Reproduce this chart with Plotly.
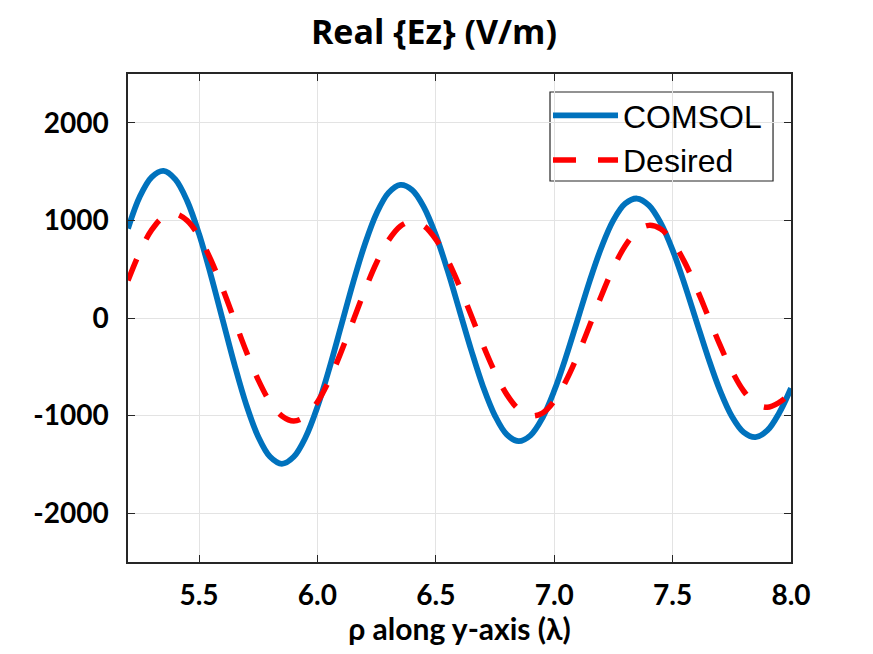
import plotly.graph_objects as go

x_vals = [5.20, 5.25, 5.30, 5.35, 5.40, 5.45, 5.50, 5.55, 5.60, 5.65,
          5.70, 5.75, 5.80, 5.85, 5.90, 5.95, 6.00, 6.05, 6.10, 6.15,
          6.20, 6.25, 6.30, 6.35, 6.40, 6.45, 6.50, 6.55, 6.60, 6.65,
          6.70, 6.75, 6.80, 6.85, 6.90, 6.95, 7.00, 7.05, 7.10, 7.15,
          7.20, 7.25, 7.30, 7.35, 7.40, 7.45, 7.50, 7.55, 7.60, 7.65,
          7.70, 7.75, 7.80, 7.85, 7.90, 7.95, 8.00]

comsol = [917, 1244, 1444, 1508, 1421, 1199, 861, 439, -20, -479,
          -892, -1216, -1422, -1494, -1422, -1222, -911, -519, -83, 356,
          753, 1073, 1282, 1364, 1312, 1134, 849, 485, 76, -333,
          -706, -1002, -1195, -1262, -1202, -1025, -746, -396, -8, 381,
          728, 1003, 1172, 1224, 1154, 972, 696, 350, -29, -405,
          -742, -1006, -1170, -1220, -1152, -973, -720]

desired = [384, 676, 902, 1036, 1068, 998, 835, 595, 298, -25,
           -346, -634, -861, -1004, -1055, -1005, -860, -634, -348, -33,
           283, 569, 795, 940, 990, 943, 806, 593, 325, 23,
           -281, -558, -785, -936, -1003, -974, -850, -643, -377, -74,
           233, 514, 741, 891, 949, 912, 782, 575, 311, 18,
           -276, -540, -748, -877, -915, -865, -770]

x_ticks = [5.5, 6.0, 6.5, 7.0, 7.5, 8.0]
x_tick_text = ["5.5", "6.0", "6.5", "7.0", "7.5", "8.0"]
y_ticks = [-2000, -1000, 0, 1000, 2000]
y_tick_text = ["-2000", "-1000", "0", "1000", "2000"]

bold_font = "Lato"
FIG_W, FIG_H = 857, 638

fig = go.Figure()
fig.add_trace(go.Scatter(
    x=x_vals, y=comsol, mode="lines", name="COMSOL",
    line=dict(color="#0072BD", width=5.8, shape="spline"),
))
fig.add_trace(go.Scatter(
    x=x_vals, y=desired, mode="lines", name="Desired",
    line=dict(color="#FF0000", width=5.5, shape="spline", dash="23px,22px"),
))

axis_common = dict(
    showgrid=True, gridcolor="#e3e3e3", gridwidth=1,
    showline=True, linecolor="#262626", linewidth=1.5,
    mirror="ticks", ticks="inside", ticklen=7, tickcolor="#262626",
    zeroline=False, automargin=False,
    tickfont=dict(family=bold_font, size=28, color="black", weight="bold"),
)

# legend frame (MATLAB-style box)
fig.add_shape(type="rect", xref="paper", yref="paper",
              x0=0.6365, x1=0.9729, y0=0.7807, y1=0.9631,
              line=dict(color="#262626", width=1.2), fillcolor="white",
              layer="below")

fig.update_layout(
    width=FIG_W, height=FIG_H,
    paper_bgcolor="white", plot_bgcolor="white",
    margin=dict(l=120, r=74, t=66, b=84),
    title=dict(
        text="<b>Real {Ez} (V/m)</b>",
        font=dict(family="Open Sans", size=34, color="black"),
        x=0.4615, xanchor="center", xref="paper",
        y=1 - 24.5 / FIG_H, yanchor="middle", yref="container",
    ),
    xaxis=dict(
        range=[5.2, 8.0], tickvals=x_ticks, ticktext=x_tick_text,
        ticklabelstandoff=8,
        title=dict(text="<b>ρ along y-axis (λ)</b>",
                   font=dict(family=bold_font, size=30, color="black"),
                   standoff=2),
        **axis_common,
    ),
    yaxis=dict(
        range=[-2500, 2500], tickvals=y_ticks, ticktext=y_tick_text,
        ticklabelstandoff=12,
        **axis_common,
    ),
    legend=dict(
        x=0.6335, xanchor="left", y=0.9713, yanchor="top",
        bgcolor="rgba(0,0,0,0)", borderwidth=0,
        font=dict(family="Liberation Sans", size=32, color="black"),
        itemwidth=65, tracegroupgap=0,
    ),
    showlegend=True,
)

fig.write_html("out.html")
